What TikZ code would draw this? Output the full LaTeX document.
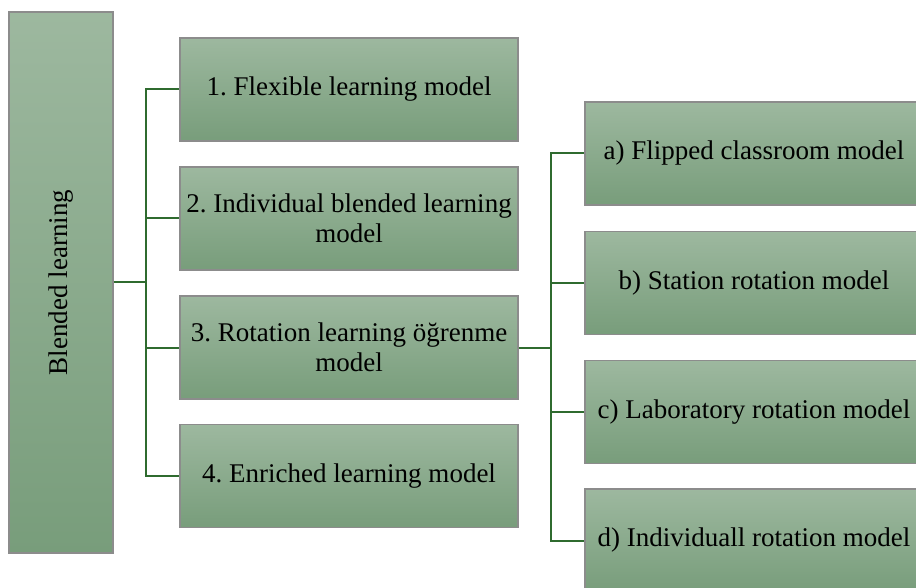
\documentclass[tikz,border=0pt]{standalone}
\usepackage{fontspec}
\setmainfont{Liberation Serif}
\usepackage{xcolor}
\usepackage{tikz}
\frenchspacing

\definecolor{boxtop}{HTML}{9DB89F}
\definecolor{boxbot}{HTML}{789D7B}
\definecolor{boxline}{HTML}{8C8C8C}
\definecolor{treeline}{HTML}{2F6B2F}

\begin{document}
\begin{tikzpicture}[
        x=1pt, y=-1pt,
        green_box/.style={
            rectangle,
            draw=boxline,
            line width=1.2pt,
            top color=boxtop,
            bottom color=boxbot,
            minimum width=338pt,
            minimum height=103pt,
            inner sep=2pt,
            align=center,
            font=\fontsize{27}{29.5}\selectfont
        },
        root_box/.style={
            green_box,
            minimum width=104pt,
            minimum height=541pt
        },
        tree_edge/.style={
            draw=treeline,
            line width=2pt
        }
    ]
        \useasboundingbox (0,0) rectangle (916,588);
        \clip (0,0) rectangle (916,588);

        % Root
        \node[root_box] (blended) at (61,282.5) {\rotatebox{90}{Blended learning}};

        % Models
        \node[green_box] (flexible)  at (349,89.5)  {1. Flexible learning model};
        \node[green_box] (individual) at (349,218.5) {2. Individual blended learning\\model};
        \node[green_box] (rotation)  at (349,347.5) {3. Rotation learning öğrenme\\model};
        \node[green_box] (enriched)  at (349,476)   {4. Enriched learning model};

        % Rotation sub-models
        \node[green_box] (flipped)   at (754,153.5) {a) Flipped classroom model};
        \node[green_box] (station)   at (754,283)   {b) Station rotation model};
        \node[green_box] (laboratory) at (754,412)  {c) Laboratory rotation model};
        \node[green_box] (indrot)    at (754,540.5) {d) Individuall rotation model};

        % Junctions
        \coordinate (j1) at (146,282.5);
        \coordinate (j2) at (551,347.5);

        % Tree edges
        \draw[tree_edge] (blended.east) -- (j1);
        \foreach \n in {flexible,individual,rotation,enriched}
            \draw[tree_edge] (j1) |- (\n.west);
        \draw[tree_edge] (rotation.east) -- (j2);
        \foreach \n in {flipped,station,laboratory,indrot}
            \draw[tree_edge] (j2) |- (\n.west);
\end{tikzpicture}
\end{document}
